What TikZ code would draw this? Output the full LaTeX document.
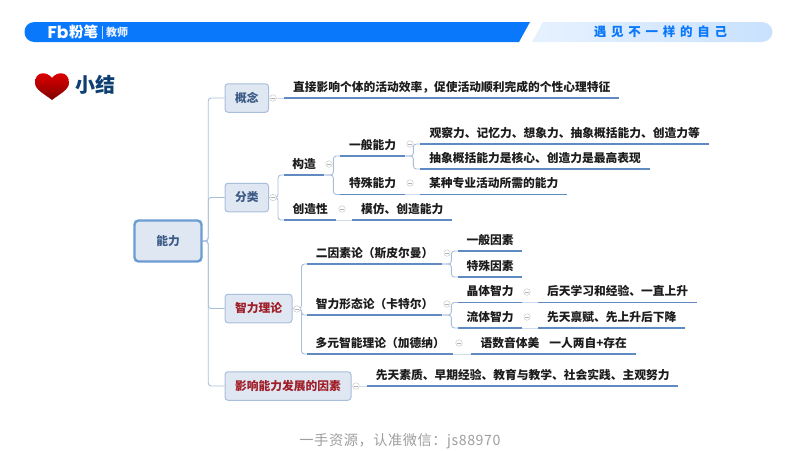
\documentclass[tikz,border=0pt]{standalone}
\usepackage{fontspec}
\setmainfont{Noto Sans CJK SC}
\newfontfamily\hdrfont[LetterSpace=38]{Noto Sans CJK SC}
\newfontfamily\wmfont[LetterSpace=4]{Noto Sans CJK SC}
\newfontfamily\logofont{Poppins}
\usetikzlibrary{backgrounds}
\definecolor{hdrblue}{HTML}{0A78FA}
\definecolor{ulblue}{HTML}{5F8BC2}
\definecolor{rootblue}{HTML}{6C9CD2}
\definecolor{brblue}{HTML}{A8BEDA}
\definecolor{boxfill}{HTML}{DFE7F3}
\definecolor{boxline}{HTML}{A9BEDB}
\definecolor{boxtext}{HTML}{3C5A86}
\definecolor{redtext}{HTML}{A01E28}
\definecolor{tptext}{HTML}{1C1C1C}
\definecolor{titleblue}{HTML}{0F3F72}
\tikzset{
  x=1pt,y=-1pt,
  topicnode/.style={inner sep=0pt,minimum height=22pt,font=\fontsize{11.75}{13}\bfseries,text=tptext},
  uline/.style={draw=ulblue,line width=1.5pt},
  branch/.style={draw=brblue,line width=0.9pt,rounded corners=3pt},
  lightlink/.style={draw=brblue!55,line width=0.8pt},
  catbox/.style={draw=boxline,fill=boxfill,line width=1pt,rounded corners=3pt,inner sep=0pt,font=\fontsize{11.75}{13}\bfseries,text=boxtext},
  redbox/.style={catbox,text=redtext},
  rootbox/.style={draw=rootblue,fill=boxfill,line width=2.4pt,rounded corners=4pt,inner sep=0pt,font=\fontsize{11.75}{13}\bfseries,text=boxtext},
  foldnode/.style={circle,draw=black!18,fill=white,line width=0.6pt,minimum size=6.5pt,inner sep=0pt,
    path picture={\draw[black!30,line width=0.5pt] ([xshift=-1.6pt]path picture bounding box.center) -- ([xshift=1.6pt]path picture bounding box.center);}},
}
% name, x0, x1, y of underline, text
\newcommand{\tpc}[5]{%
  \node[topicnode,anchor=south west,minimum width={(#3-#2)*1pt}] (#1) at (#2,#4) {#5};
  \draw[uline] (#1.south west) -- (#1.south east);}
\begin{document}
\begin{tikzpicture}
\useasboundingbox (0,0) rectangle (800,450);
% header
\fill[hdrblue] (34.5,42) .. controls (28,42) and (24.5,37) .. (24.5,32) .. controls (24.5,27) and (28,22) .. (34.5,22) -- (530,22) -- (519,42) -- cycle;
\shade[left color=hdrblue!10,right color=hdrblue!22] (543,22) -- (762,22) .. controls (768,22) and (772.5,27) .. (772.5,32) .. controls (772.5,37) and (768,42) .. (762,42) -- (532,42) -- cycle;
\node[text=white,inner sep=0pt,anchor=west,font=\logofont\fontsize{17}{17}\bfseries] (logofb) at (47.5,32) {Fb};
\node[text=white,inner sep=0pt,anchor=west,font=\fontsize{14.5}{15}\bfseries] (logofenbi) at (69,32) {粉笔};
\fill[white!75!hdrblue] (102.2,25.5) rectangle (102.9,38.5);
\node[text=white!90!hdrblue,inner sep=0pt,anchor=west,font=\fontsize{11}{12}\bfseries] (logojs) at (106,32.5) {教师};
\node[text=hdrblue,inner sep=0pt,font=\hdrfont\fontsize{12.5}{13}\bfseries] (slogan) at (660.5,32) {遇见不一样的自己};
% heart and title
\shade[top color=red!90!black,middle color=red!85!black,bottom color=red!50!black]
  (52,78) .. controls (47,71) and (35,71) .. (35,83) .. controls (35,90) and (46,95) .. (52,100)
  .. controls (58,95) and (69,90) .. (69,83) .. controls (69,71) and (57,71) .. (52,78) -- cycle;
\node[text=titleblue,inner sep=0pt,anchor=west,font=\fontsize{20}{21}\bfseries] (title) at (75,85) {小结};
% boxes
\node[rootbox,minimum width=67pt,minimum height=41pt] (root) at (168,241) {能力};
\node[catbox,minimum width=43.5pt,minimum height=28.5pt] (b1) at (246.75,98) {概念};
\node[catbox,minimum width=43.5pt,minimum height=28.5pt] (b2) at (246.75,197.5) {分类};
\node[redbox,minimum width=67pt,minimum height=28.5pt] (b3) at (258.5,308.5) {智力理论};
\node[redbox,minimum width=126pt,minimum height=28.5pt] (b4) at (288,386) {影响能力发展的因素};
% topics
\tpc{c1}{284}{619}{98}{直接影响个体的活动效率，促使活动顺利完成的个性心理特征}
\tpc{g1}{284}{324}{175}{构造}
\tpc{g2}{340}{405}{156}{一般能力}
\tpc{g3}{420}{709}{144}{观察力、记忆力、想象力、抽象概括能力、创造力等}
\tpc{g4}{420}{650}{169}{抽象概括能力是核心、创造力是最高表现}
\tpc{g5}{340}{405}{194.5}{特殊能力}
\tpc{g6}{420}{567}{194.5}{某种专业活动所需的能力}
\tpc{k1}{284}{336}{220}{创造性}
\tpc{k2}{352}{452}{220}{模仿、创造能力}
\tpc{t1}{307}{442}{264}{二因素论（斯皮尔曼）}
\tpc{t2}{458}{522}{251}{一般因素}
\tpc{t3}{458}{522}{277}{特殊因素}
\tpc{t4}{307}{442}{315}{智力形态论（卡特尔）}
\tpc{t5}{458}{522}{302.5}{晶体智力}
\tpc{t6}{538}{697}{302.5}{后天学习和经验、一直上升}
\tpc{t7}{458}{522}{328}{流体智力}
\tpc{t8}{538}{685}{328}{先天禀赋、先上升后下降}
\tpc{t9}{307}{453}{354}{多元智能理论（加德纳）}
\tpc{t10}{471}{636}{354}{语数音体美\hspace{10pt}一人两自+存在}
\tpc{f1}{367}{678}{386}{先天素质、早期经验、教育与教学、社会实践、主观努力}
% fold markers
\node[foldnode] (fa) at (273,98) {};
\node[foldnode] (fb) at (273,197.5) {};
\node[foldnode] (fc) at (329,164) {};
\node[foldnode] (fd) at (410,144) {};
\node[foldnode] (fe) at (410,183) {};
\node[foldnode] (ff) at (342,209) {};
\node[foldnode] (fg) at (297,309) {};
\node[foldnode] (fh) at (447,253) {};
\node[foldnode] (fi) at (447,304) {};
\node[foldnode] (fj) at (527,292) {};
\node[foldnode] (fk) at (527,317) {};
\node[foldnode] (fl) at (459,343) {};
\node[foldnode] (fm) at (356,386) {};
% connectors
\begin{scope}[on background layer]
\draw[branch] (root.east) -- ++(5.5,0) |- (b1.west);
\draw[branch] (root.east) -- ++(5.5,0) |- (b2.west);
\draw[branch] (root.east) -- ++(5.5,0) |- (b3.west);
\draw[branch] (root.east) -- ++(5.5,0) |- (b4.west);
\draw[lightlink] (b1.east) -- (c1.south west);
\draw[branch] (b2.east) -- ++(9,0) |- (g1.south west);
\draw[branch] (b2.east) -- ++(9,0) |- (k1.south west);
\draw[branch] (g1.south east) -- ++(9,0) |- (g2.south west);
\draw[branch] (g1.south east) -- ++(9,0) |- (g5.south west);
\draw[branch] (g2.south east) -- ++(8,0) |- (g3.south west);
\draw[branch] (g2.south east) -- ++(8,0) |- (g4.south west);
\draw[lightlink] (g5.south east) -- (g6.south west);
\draw[lightlink] (k1.south east) -- (k2.south west);
\draw[branch] (b3.east) -- ++(9,0) |- (t1.south west);
\draw[branch] (b3.east) -- ++(9,0) |- (t4.south west);
\draw[branch] (b3.east) -- ++(9,0) |- (t9.south west);
\draw[branch] (t1.south east) -- ++(9,0) |- (t2.south west);
\draw[branch] (t1.south east) -- ++(9,0) |- (t3.south west);
\draw[branch] (t4.south east) -- ++(9,0) |- (t5.south west);
\draw[branch] (t4.south east) -- ++(9,0) |- (t7.south west);
\draw[lightlink] (t5.south east) -- (t6.south west);
\draw[lightlink] (t7.south east) -- (t8.south west);
\draw[lightlink] (t9.south east) -- (t10.south west);
\draw[lightlink] (b4.east) -- (f1.south west);
\end{scope}
% watermark
\node[text=black!38,inner sep=0pt,font=\wmfont\fontsize{14.2}{15}\selectfont] (mark) at (400,441) {一手资源，认准微信：js88970};
\end{tikzpicture}
\end{document}
